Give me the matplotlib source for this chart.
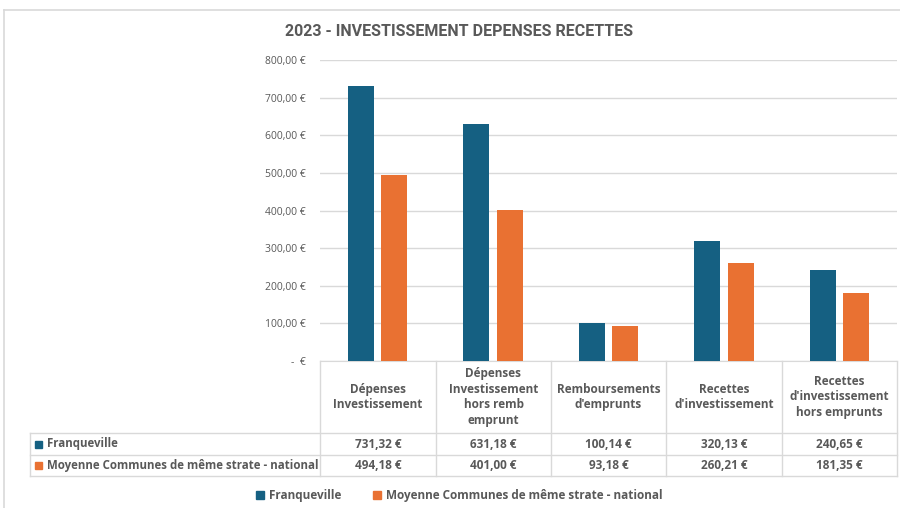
import matplotlib.pyplot as plt
import numpy as np

categories = ["Dépenses\nInvestissement",
              "Dépenses\nInvestissement\nhors remb\nemprunt",
              "Remboursements\nd'emprunts",
              "Recettes\nd'investissement",
              "Recettes\nd'investissement\nhors emprunts"]
series_names = ["Franqueville", "Moyenne Communes de même strate - national"]
franqueville = [731.32, 631.18, 100.14, 320.13, 240.65]
moyenne = [494.18, 401.00, 93.18, 260.21, 181.35]
yticks = [0, 100, 200, 300, 400, 500, 600, 700, 800]

BLUE = "#156082"
ORANGE = "#E97132"
TXT = "#595959"
GRID = "#d9d9d9"

plt.rcParams["font.family"] = ["Open Sans", "DejaVu Sans"]

W, H = 900, 508
fig = plt.figure(figsize=(9, 5.08), dpi=100)

def fx(x):
    return x / W

def fy(y):
    return 1 - y / H

# bar chart area
ax = fig.add_axes([fx(320), fy(361), fx(897) - fx(320), fy(60) - fy(361)])
x = np.arange(len(categories))
w = 0.225
ax.bar(x - 0.145, franqueville, w, color=BLUE, zorder=3)
ax.bar(x + 0.145, moyenne, w, color=ORANGE, zorder=3)
ax.set_xlim(-0.5, len(categories) - 0.5)
ax.set_ylim(0, 800)
ax.set_yticks(yticks)
ax.set_yticklabels(["-  €" if v == 0 else f"{v:.2f} €".replace(".", ",") for v in yticks],
                   fontsize=7.5, color=TXT)
ax.tick_params(axis="y", length=0, pad=10)
ax.set_xticks([])
ax.yaxis.grid(True, color=GRID, linewidth=1, zorder=0)
for s in ["top", "right", "left"]:
    ax.spines[s].set_visible(False)
ax.spines["bottom"].set_color(GRID)

# overlay in pixel coordinates for frame, title, data table and legend
ov = fig.add_axes([0, 0, 1, 1], zorder=5)
ov.set_xlim(0, W)
ov.set_ylim(H, 0)
ov.axis("off")
ov.patch.set_alpha(0)

ov.plot([4, 4], [10, H], color=GRID, lw=1.2)
ov.plot([4, W], [10, 10], color=GRID, lw=1.2)

ov.text(459, 32, "2023 - INVESTISSEMENT DEPENSES RECETTES", ha="center", va="center",
        fontsize=11.5, fontweight="bold", color=TXT, family=["Roboto", "DejaVu Sans"])

cols = [320, 436, 551, 666, 782, 897]
for cx in cols:
    ov.plot([cx, cx], [361, 476], color=GRID, lw=1)
for ry in [433, 455, 476]:
    ov.plot([30, 897], [ry, ry], color=GRID, lw=1)
ov.plot([30, 30], [433, 476], color=GRID, lw=1)

for i, cat in enumerate(categories):
    cx = (cols[i] + cols[i + 1]) / 2
    ov.text(cx, 397, cat, ha="center", va="center", fontsize=8.5, fontweight="bold",
            color=TXT, linespacing=1.25)
    ov.text(cx, 444, f"{franqueville[i]:.2f} €".replace(".", ","), ha="center", va="center",
            fontsize=8.5, fontweight="bold", color=TXT)
    ov.text(cx, 465.5, f"{moyenne[i]:.2f} €".replace(".", ","), ha="center", va="center",
            fontsize=8.5, fontweight="bold", color=TXT)

for ry, name, c in [(444, series_names[0], BLUE), (465.5, series_names[1], ORANGE)]:
    ov.add_patch(plt.Rectangle((35, ry - 3.5), 7, 7, color=c))
    ov.text(47, ry, name, ha="left", va="center", fontsize=8.3, fontweight="bold", color=TXT)

# legend
for lx, name, c in [(256, series_names[0], BLUE), (373, series_names[1], ORANGE)]:
    ov.add_patch(plt.Rectangle((lx, 491), 8, 8, color=c))
    ov.text(lx + 13, 495, name, ha="left", va="center", fontsize=8.5, fontweight="bold", color=TXT)

fig.savefig("out.png", dpi=100, facecolor="white")
